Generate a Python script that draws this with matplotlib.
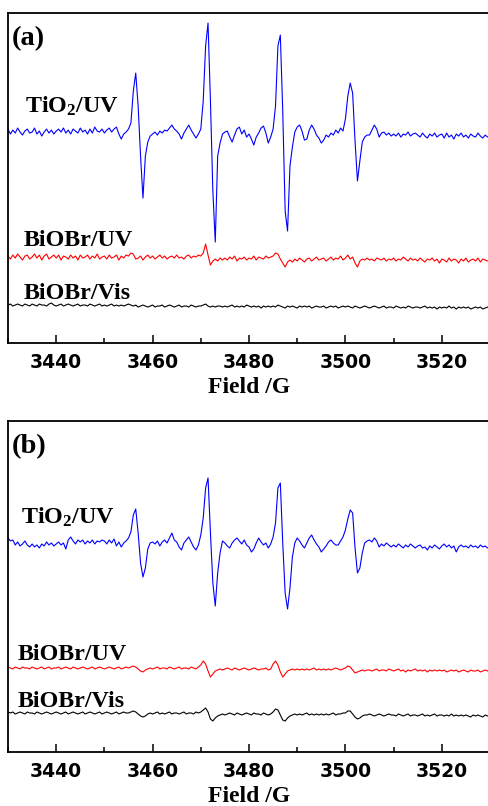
import numpy as np
import matplotlib
matplotlib.use("Agg")
import matplotlib.pyplot as plt
from matplotlib.ticker import MultipleLocator

plt.rcParams['mathtext.fontset'] = 'custom'
plt.rcParams['mathtext.rm'] = 'Liberation Serif:bold'
plt.rcParams['mathtext.it'] = 'Liberation Serif:bold'
plt.rcParams['mathtext.bf'] = 'Liberation Serif:bold'

# magnetic field sampling, G
field = np.arange(3430.0, 3530.01, 0.5)

# signal (a.u., deviation from each trace's baseline), 5 G per row
tio2_a = [
    2, -3, 1, -2, 3, -1, -4, 0, 2, -2,
    -1, 3, -3, 0, -5, -1, 2, -2, 1, -3,
    0, 2, -1, 3, -2, 1, -3, 2, 0, -2,
    3, -1, 1, -3, 2, -2, 4, 0, -1, 2,
    -2, 1, 3, -1, 2, 4, -3, -8, -3, -1,
    2, 8, 40, 58, 25, -25, -67, -25, -11, -5,
    -3, -1, -4, 0, -2, 1, 0, 3, 6, 2,
    0, -3, -8, -2, 2, 6, 1, -3, -7, -3,
    2, 30, 85, 108, 30, -60, -111, -25, -12, -3,
    -1, 0, -6, -11, -4, 2, 4, -3, 1, -6,
    -3, -8, -14, -6, -2, 3, 5, -2, -12, -6,
    2, 25, 85, 96, 20, -80, -100, -35, -16, -1,
    4, 6, 0, -9, -8, 1, 6, 2, -4, -7,
    -12, -9, -4, -6, -2, -4, 1, -2, 3, 0,
    12, 35, 48, 38, -10, -50, -30, -11, -6, -4,
    -4, 1, 6, 2, -6, -2, -1, -4, -2, -5,
    -3, -5, -2, -6, -3, -4, -1, -5, -3, -2,
    -4, -6, -2, -5, -7, -3, -5, -2, -6, -4,
    -3, -7, -2, -6, -4, -8, -3, -5, -2, -6,
    -4, -7, -3, -5, -6, -2, -5, -7, -4, -6,
    -5]

red_a = [
    1, -2, 2, -1, 3, 0, -3, 1, 2, -2,
    0, 3, -1, 2, -3, 1, 3, -2, 0, 2,
    -1, 2, -3, 1, 0, -2, 2, -1, 1, -3,
    2, -1, 0, 2, -2, 1, -1, 3, -2, 0,
    1, -2, 2, -1, 0, 2, -3, 1, -1, 2,
    1, 4, 3, -2, -1, 1, -3, 0, 2, -1,
    1, -2, 0, 2, -1, 1, -2, 0, 1, -1,
    2, -1, 0, -2, 1, 2, -1, 1, 0, 2,
    1, 4, 13, 2, -8, -4, -2, -4, -1, -3,
    -1, -3, 0, -2, 1, -4, -1, -2, 0, -3,
    -1, -2, 1, -3, 0, -1, -2, 1, -1, 0,
    1, 4, 3, -2, -6, -10, -5, -3, -5, -2,
    -4, -1, -3, -5, -2, -1, -4, -2, 0, -3,
    -2, -1, -4, -2, 0, -3, -1, -2, 1, -3,
    -1, 2, -2, 0, -6, -10, -4, -2, -3, -1,
    -3, -2, -4, -1, -2, -3, -1, -4, -2, -3,
    -1, -4, -2, -3, 0, -2, -4, -1, -3, -2,
    -4, -1, -3, -5, -2, -3, -1, -4, -2, -6,
    -2, -3, -5, -1, -4, -2, -3, -6, -2, -4,
    -1, -5, -3, -2, -4, -1, -5, -2, -3, -4,
    -3]

black_a = [
    0, 1, -1, 0, 1, 0, -1, 1, 0, -1,
    1, 0, -1, 1, 0, 0, -1, 1, 2, 0,
    -1, 0, 1, -1, 0, 1, 0, -1, 0, 1,
    -1, 0, 0, -1, 1, 0, -1, 0, 1, -1,
    0, -1, 0, 1, -1, 0, -1, 0, -1, 0,
    1, 0, -1, 0, -2, -1, 0, -1, -2, -1,
    0, -2, -1, -1, 0, -2, -1, 0, -1, -2,
    -1, 0, -2, -1, -1, -2, 0, -1, -2, -1,
    -1, 0, 1, -1, -2, -1, -2, -1, -1, -2,
    -1, -2, -1, 0, -2, -1, -2, -1, -2, 0,
    -1, -2, -1, -2, -1, -3, -1, -2, -1, -2,
    -1, -2, 0, -1, -2, -3, -1, -2, -1, -2,
    -3, -1, -2, -1, -2, -1, -3, -2, -1, -2,
    -2, -1, -3, -2, -1, -2, -1, -3, -2, -1,
    -2, -1, -2, -3, -1, -2, -3, -2, -1, -2,
    -3, -2, -1, -2, -3, -2, -1, -3, -2, -2,
    -3, -1, -2, -3, -2, -3, -1, -2, -3, -2,
    -2, -3, -2, -1, -3, -2, -3, -2, -4, -2,
    -3, -2, -3, -1, -3, -2, -4, -2, -3, -2,
    -3, -2, -4, -3, -2, -3, -2, -4, -3, -2,
    -3]

tio2_b = [
    5, 2, 3, -2, 1, -3, -1, 2, -2, -4,
    -1, -4, -2, -5, -1, -3, 1, -2, 0, -3,
    -1, 1, -2, 0, -6, 3, 6, 2, -1, 3,
    1, 3, -1, 2, 0, 3, -1, 2, 1, 3,
    2, -1, 3, 0, 4, -3, 1, -4, 0, 2,
    5, 11, 28, 34, 10, -20, -34, -25, -6, 0,
    1, -1, 2, -3, 1, 3, 0, 5, 10, 3,
    1, -4, -7, 0, 3, 6, 1, -4, -7, -2,
    8, 25, 55, 65, 10, -40, -63, -30, -10, 2,
    0, -3, -5, 0, 3, 5, 2, -1, 3, -2,
    -4, -9, -6, 0, 5, 1, -2, 0, -5, -1,
    6, 20, 55, 60, 0, -50, -66, -45, -14, 0,
    5, 2, -2, -5, 0, 5, 8, 3, -1, -4,
    -9, -6, -3, 1, 3, 0, -2, -2, 2, 6,
    13, 24, 33, 30, -5, -30, -25, -10, 0, 2,
    3, 1, 5, 2, -4, -1, -3, 0, -2, -4,
    -2, -4, -1, -3, -5, -2, -4, -1, -3, -5,
    -3, -2, -5, -4, -7, -3, -5, -2, -4, -6,
    -3, -1, -4, -2, -5, -3, -9, -4, -2, -4,
    -3, -5, -2, -4, -3, -5, -2, -4, -3, -5,
    -4]

red_b = [
    1, 0, -1, 1, 0, -1, 1, 0, 0, -1,
    1, 0, -1, 0, 1, -1, 0, 1, -1, 0,
    0, 1, -1, 0, 1, 0, -1, 1, 0, -1,
    0, 1, 0, -1, 0, 1, -1, 0, 1, 0,
    -1, 0, 1, 0, -1, 0, 1, -1, 0, 1,
    0, 1, 2, 1, -1, -3, -4, -2, -1, 0,
    -1, 0, 1, -1, 0, 0, -1, 1, 0, -1,
    0, 1, -1, 0, 0, -1, 1, 0, -1, 1,
    3, 7, 4, -3, -9, -6, -3, -2, -1, -2,
    -1, 0, -1, -2, 0, -1, -2, -1, 0, -1,
    -2, -1, 0, -1, -2, -1, -1, 0, -2, -1,
    4, 7, 3, -4, -9, -6, -3, -2, -1, -2,
    -1, -2, -1, -2, -1, -2, -1, 0, -2, -1,
    -2, -1, -2, -1, -2, -1, 0, -1, -2, -1,
    0, 2, 1, -2, -5, -4, -3, -2, -3, -2,
    -2, -3, -2, -1, -3, -2, -2, -3, -1, -2,
    -3, -2, -1, -3, -2, -4, -2, -3, -2, -1,
    -3, -2, -3, -2, -4, -2, -3, -2, -3, -2,
    -3, -2, -4, -3, -2, -3, -2, -4, -3, -2,
    -3, -4, -2, -3, -3, -2, -4, -3, -2, -3,
    -3]

black_b = [
    1, 0, 1, -1, 0, 1, 0, -1, 1, 0,
    0, -1, 1, 0, -1, 0, 1, 0, -1, 0,
    1, 0, -1, 0, 1, -1, 0, 1, 0, -1,
    0, 1, -1, 0, 1, 0, -1, 0, 1, -1,
    0, 1, 0, -1, 0, 1, -1, 0, 1, 0,
    0, 1, 2, 1, -1, -3, -4, -3, -1, 0,
    -1, 0, 1, -1, 0, -1, 0, 1, -1, 0,
    0, -1, 0, 1, -1, 0, 0, -1, 1, 0,
    1, 3, 5, 1, -6, -8, -5, -3, -2, -1,
    -2, -1, 0, -1, -2, 0, -1, -2, -1, 0,
    -1, -2, 0, -1, -1, -2, 0, -1, -2, -1,
    1, 4, 3, -2, -7, -8, -5, -3, -2, -1,
    -2, -1, -2, -1, 0, -2, -1, -2, -1, -2,
    -1, -2, -1, -2, -1, 0, -2, -1, -1, 0,
    0, 2, 2, -1, -4, -6, -5, -3, -2, -2,
    -1, -2, -3, -2, -1, -2, -3, -2, -1, -2,
    -2, -3, -1, -2, -3, -2, -1, -3, -2, -2,
    -3, -2, -1, -3, -2, -3, -2, -1, -3, -2,
    -2, -3, -2, -3, -1, -3, -2, -3, -2, -3,
    -2, -3, -4, -2, -3, -2, -3, -4, -2, -3,
    -3]

samples = ["TiO$_2$/UV", "BiOBr/UV", "BiOBr/Vis"]
colors = ["#0000ff", "#ff0000", "#000000"]

major_ticks = [3440, 3460, 3480, 3500, 3520]

serif = "Liberation Serif"


def draw_panel(ax, traces, offsets, letter, ylim, label_xy):
    for y, off, c in zip(traces, offsets, colors):
        ax.plot(field, np.array(y) + off, color=c, lw=0.8)
    ax.set_xlim(3430, 3530)
    ax.set_ylim(*ylim)
    ax.set_yticks([])
    ax.set_xticks(major_ticks)
    ax.xaxis.set_minor_locator(MultipleLocator(10))
    ax.tick_params(axis='x', which='major', direction='in', length=6, width=1.1, pad=7)
    ax.tick_params(axis='x', which='minor', direction='in', length=3.5, width=1.1)
    for lab in ax.get_xticklabels():
        lab.set_fontfamily("DejaVu Sans")
        lab.set_fontweight("bold")
        lab.set_fontsize(13.5)
    for s in ax.spines.values():
        s.set_linewidth(1.3)
    ax.set_xlabel("Field /G", fontfamily=serif, fontweight="bold", fontsize=17, labelpad=4)
    ax.text(0.008, 0.903, letter, transform=ax.transAxes, fontfamily=serif,
            fontweight="bold", fontsize=20.5, va="baseline")
    for name, (tx, ty) in zip(samples, label_xy):
        ax.text(tx, ty, name, transform=ax.transAxes, fontfamily=serif,
                fontweight="bold", fontsize=17.3, va="baseline")


fig = plt.figure(figsize=(4.88, 8.06), dpi=100)
ax_a = fig.add_axes([0.0164, 0.5744, 0.9877, 0.4094])
ax_b = fig.add_axes([0.0164, 0.0670, 0.9877, 0.4107])

draw_panel(ax_a, [tio2_a, red_a, black_a], [212, 86, 38], "(a)", (0, 330),
           [(0.035, 0.697), (0.033, 0.294), (0.033, 0.133)])
draw_panel(ax_b, [tio2_b, red_b, black_b], [209, 84, 39], "(b)", (0, 331),
           [(0.027, 0.689), (0.021, 0.278), (0.021, 0.136)])

fig.savefig("out.png", dpi=100)
